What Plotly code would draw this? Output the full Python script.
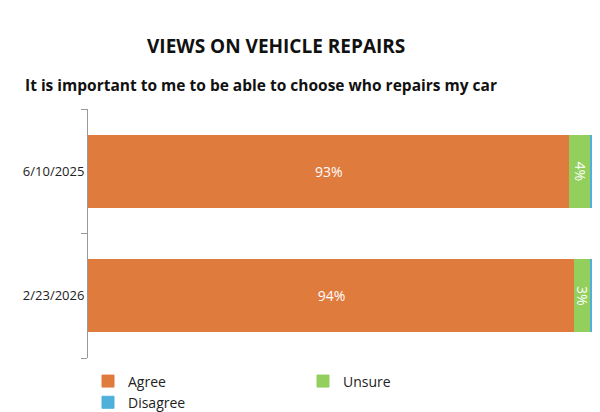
import plotly.graph_objects as go

categories = ["2/23/2026", "6/10/2025"]
agree = [94, 93]
unsure = [3, 4]
disagree = [3, 3]
series = [("Agree", agree, "#E07B3E"), ("Unsure", unsure, "#92CF5C"), ("Disagree", disagree, "#4FB0DA")]

fig = go.Figure()
for name, vals, col in series:
    fig.add_trace(go.Bar(
        y=categories, x=vals, name=name, orientation="h",
        marker=dict(color=col, line=dict(color=col, width=1)),
        text=[f"{v}%" for v in vals], textposition="inside", insidetextanchor="middle",
        textfont=dict(color="white", size=14, family="Open Sans"),
        constraintext="none"))

fig.update_layout(
    barmode="stack", bargap=0.42, width=600, height=412,
    margin=dict(l=80, r=2, t=101, b=35),
    plot_bgcolor="white", paper_bgcolor="white",
    font=dict(family="Open Sans", color="#222"),
    uniformtext=dict(mode="show", minsize=8),
    xaxis=dict(range=[0, 100], visible=False),
    yaxis=dict(showline=True, linecolor="#999", ticks="outside", tickson="boundaries",
               ticklen=6, tickcolor="#999", tickfont=dict(size=13, color="#222")),
    legend=dict(orientation="h", x=0.0, y=-0.03, xanchor="left", yanchor="top",
                font=dict(size=14), traceorder="normal", itemwidth=30, entrywidth=170),
    annotations=[
        dict(text="<b>VIEWS ON VEHICLE REPAIRS</b>", x=268, y=15, xref="paper", yref="paper",
             showarrow=False, font=dict(size=19, color="#111", family="Open Sans")),
        dict(text="<b>It is important to me to be able to choose who repairs my car</b>",
             x=15, y=60, showarrow=False, font=dict(size=15.5, color="#111", family="Open Sans"),
             xanchor="left"),
    ],
)
# convert pixel annotation coordinates to paper
pw, ph = 600 - 82, 412 - 136
for a in fig.layout.annotations:
    px, py = a.x, a.y
    a.x = (px - 80) / pw
    a.y = (412 - 35 - py) / ph
    a.xref = "paper"; a.yref = "paper"
fig.write_html("out.html")
